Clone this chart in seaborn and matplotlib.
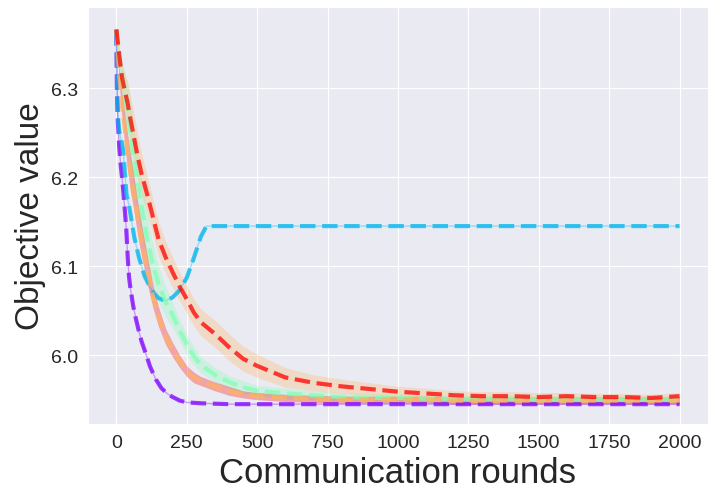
import numpy as np
import matplotlib
matplotlib.use('Agg')
import matplotlib.pyplot as plt
import seaborn as sns

rounds = [0, 10, 20, 30, 40, 50, 60, 75, 90, 110, 130, 150, 175, 200, 225, 250,
          275, 300, 350, 400, 450, 500, 600, 700, 800, 900, 1000, 1100, 1200,
          1300, 1400, 1500, 1600, 1700, 1800, 1900, 2000]

red_mean = [6.366, 6.338, 6.312, 6.297, 6.283, 6.265, 6.249, 6.224, 6.203, 6.180,
            6.155, 6.130, 6.110, 6.093, 6.077, 6.063, 6.048, 6.037, 6.024, 6.009,
            5.996, 5.988, 5.975, 5.969, 5.965, 5.962, 5.959, 5.957, 5.955, 5.954,
            5.954, 5.953, 5.954, 5.953, 5.953, 5.952, 5.954]
red_spread = [0.0, 0.008, 0.015, 0.020, 0.024, 0.026, 0.026, 0.025, 0.023, 0.021,
              0.020, 0.019, 0.018, 0.017, 0.016, 0.016, 0.015, 0.015, 0.015, 0.015,
              0.014, 0.013, 0.011, 0.009, 0.008, 0.007, 0.006, 0.006, 0.005, 0.005,
              0.005, 0.005, 0.004, 0.004, 0.004, 0.004, 0.004]

green_mean = [6.365, 6.335, 6.310, 6.290, 6.275, 6.251, 6.226, 6.196, 6.166, 6.130,
              6.102, 6.080, 6.060, 6.045, 6.028, 6.012, 5.999, 5.989, 5.978, 5.970,
              5.964, 5.960, 5.957, 5.955, 5.953, 5.952, 5.952, 5.951, 5.951, 5.951,
              5.951, 5.950, 5.950, 5.950, 5.950, 5.950, 5.950]
green_spread = [0.0, 0.010, 0.020, 0.025, 0.030, 0.032, 0.033, 0.033, 0.030, 0.027,
                0.023, 0.020, 0.017, 0.014, 0.012, 0.011, 0.010, 0.009, 0.008, 0.007,
                0.007, 0.006, 0.006, 0.005, 0.005, 0.005, 0.005, 0.004, 0.004, 0.004,
                0.004, 0.004, 0.004, 0.004, 0.004, 0.004, 0.004]

orange_mean = [6.365, 6.315, 6.280, 6.254, 6.228, 6.205, 6.187, 6.155, 6.128, 6.096,
               6.066, 6.043, 6.021, 6.006, 5.993, 5.982, 5.975, 5.971, 5.965, 5.960,
               5.956, 5.954, 5.952, 5.951, 5.950, 5.950, 5.950, 5.950, 5.949, 5.949,
               5.949, 5.949, 5.949, 5.949, 5.949, 5.949, 5.949]
orange_spread = [0.0, 0.008, 0.014, 0.018, 0.020, 0.021, 0.020, 0.019, 0.018, 0.016,
                 0.013, 0.011, 0.009, 0.008, 0.007, 0.006, 0.006, 0.005, 0.005, 0.005,
                 0.004, 0.004, 0.004, 0.004, 0.004, 0.004, 0.004, 0.004, 0.004, 0.004,
                 0.004, 0.004, 0.004, 0.004, 0.004, 0.004, 0.004]

# deterministic curves
purple_rounds = [0, 2, 5, 10, 15, 20, 25, 30, 35, 40, 45, 50, 60, 70, 80, 90, 100,
                 120, 140, 160, 180, 200, 225, 250, 300, 400, 2000]
purple_val = [6.365, 6.300, 6.265, 6.235, 6.215, 6.200, 6.183, 6.163, 6.143, 6.112,
              6.088, 6.075, 6.055, 6.040, 6.027, 6.015, 6.006, 5.987, 5.973, 5.963,
              5.957, 5.953, 5.949, 5.947, 5.946, 5.945, 5.945]

cyan_rounds = [0, 5, 10, 15, 20, 25, 30, 36, 45, 52, 64, 80, 100, 125, 150, 175,
               200, 225, 250, 275, 300, 320, 2000]
cyan_val = [6.365, 6.270, 6.252, 6.245, 6.238, 6.229, 6.205, 6.180, 6.168, 6.155,
            6.132, 6.110, 6.089, 6.073, 6.064, 6.061, 6.065, 6.073, 6.087, 6.109,
            6.133, 6.145, 6.145]

cmap = plt.get_cmap('rainbow')
c_purple, c_cyan, c_green, c_orange, c_red = [cmap(v) for v in (0.0, 0.25, 0.5, 0.75, 1.0)]

sns.set_style('darkgrid')
plt.rcParams['font.family'] = ['Liberation Sans', 'DejaVu Sans']

fig, ax = plt.subplots(figsize=(7.17, 5.02), dpi=100)
fig.subplots_adjust(left=0.123, right=0.987, bottom=0.153, top=0.984)

r = np.array(rounds)
for mean, spread, col in [(green_mean, green_spread, c_green),
                          (orange_mean, orange_spread, c_red),
                          (red_mean, red_spread, c_orange)]:
    m = np.array(mean)
    s = np.array(spread)
    ax.fill_between(r, m - s, m + s, color=col, alpha=0.3, linewidth=0)

# thin solid traces under the dashed deterministic curves
sns.lineplot(x=purple_rounds, y=purple_val, color=c_purple, alpha=0.35, linewidth=1, ax=ax)
sns.lineplot(x=cyan_rounds, y=cyan_val, color=c_cyan, alpha=0.35, linewidth=1, ax=ax)

sns.lineplot(x=purple_rounds, y=purple_val, color=c_purple, alpha=0.75, linewidth=3,
             linestyle='--', ax=ax)
sns.lineplot(x=cyan_rounds, y=cyan_val, color=c_cyan, alpha=0.75, linewidth=3,
             linestyle='--', ax=ax)
sns.lineplot(x=rounds, y=green_mean, color=c_green, alpha=0.75, linewidth=3,
             linestyle='--', ax=ax)
sns.lineplot(x=rounds, y=orange_mean, color=c_orange, alpha=0.75, linewidth=3,
             linestyle='--', ax=ax)
sns.lineplot(x=rounds, y=red_mean, color=c_red, alpha=0.75, linewidth=3,
             linestyle='--', ax=ax)

ax.set_xlim(-100, 2100)
ax.set_ylim(5.9225, 6.391)
ax.set_xticks([0, 250, 500, 750, 1000, 1250, 1500, 1750, 2000])
ax.set_yticks([6.0, 6.1, 6.2, 6.3])
ax.tick_params(labelsize=14)
ax.set_xlabel('Communication rounds', fontsize=25)
ax.set_ylabel('Objective value', fontsize=24)

fig.savefig('out.png', dpi=100)
